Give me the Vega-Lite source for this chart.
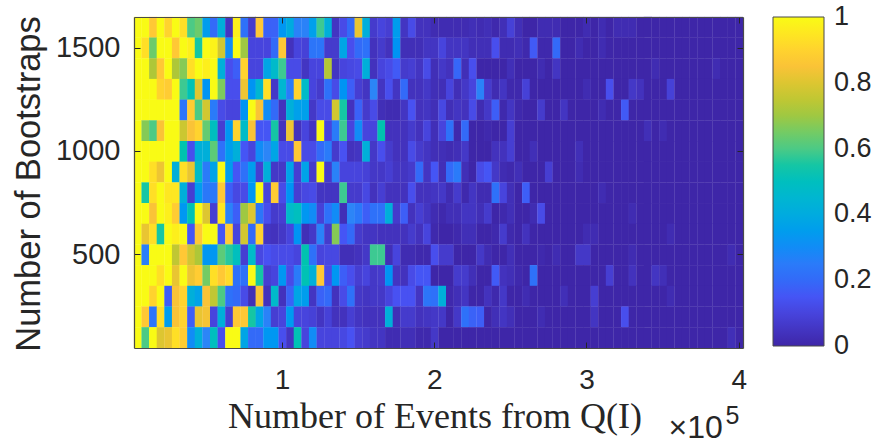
{"$schema":"https://vega.github.io/schema/vega-lite/v6.json","width":609,"height":331,"autosize":{"type":"none"},"padding":{"left":134,"top":17,"right":134,"bottom":93},"background":"white","config":{"view":{"stroke":null},"font":"Liberation Sans"},
"datasets":{"cells":[
{"y":1600,"x":0.05,"v":1},{"y":1600,"x":0.1,"v":1},{"y":1600,"x":0.15,"v":0.87},{"y":1600,"x":0.2,"v":1},{"y":1600,"x":0.25,"v":0.9},{"y":1600,"x":0.3,"v":1},{"y":1600,"x":0.35,"v":0.93},{"y":1600,"x":0.4,"v":0.6},{"y":1600,"x":0.45,"v":0.64},{"y":1600,"x":0.5,"v":0.35},{"y":1600,"x":0.55,"v":0.2},{"y":1600,"x":0.6,"v":0.42},{"y":1600,"x":0.65,"v":0.05},{"y":1600,"x":0.7,"v":0.97},{"y":1600,"x":0.75,"v":0.22},{"y":1600,"x":0.8,"v":0.07},{"y":1600,"x":0.85,"v":0.87},{"y":1600,"x":0.9,"v":0.18},{"y":1600,"x":0.95,"v":0.18},{"y":1600,"x":1,"v":0.33},{"y":1600,"x":1.05,"v":0.4},{"y":1600,"x":1.1,"v":0.27},{"y":1600,"x":1.15,"v":0.27},{"y":1600,"x":1.2,"v":0.36},{"y":1600,"x":1.25,"v":0.58},{"y":1600,"x":1.3,"v":0.42},{"y":1600,"x":1.35,"v":0.05},{"y":1600,"x":1.4,"v":0.12},{"y":1600,"x":1.45,"v":0.2},{"y":1600,"x":1.5,"v":0.82},{"y":1600,"x":1.55,"v":0.42},{"y":1600,"x":1.6,"v":0.07},{"y":1600,"x":1.65,"v":0.1},{"y":1600,"x":1.7,"v":0.08},{"y":1600,"x":1.75,"v":0.35},{"y":1600,"x":1.8,"v":0.05},{"y":1600,"x":1.85,"v":0.12},{"y":1600,"x":1.9,"v":0.04},{"y":1600,"x":1.95,"v":0.04},{"y":1600,"x":2,"v":0.02},{"y":1600,"x":2.05,"v":0.02},{"y":1600,"x":2.1,"v":0.02},{"y":1600,"x":2.15,"v":0.02},{"y":1600,"x":2.2,"v":0.02},{"y":1600,"x":2.25,"v":0.03},{"y":1600,"x":2.3,"v":0.02},{"y":1600,"x":2.35,"v":0.03},{"y":1600,"x":2.4,"v":0.01},{"y":1600,"x":2.45,"v":0.03},{"y":1600,"x":2.5,"v":0.09},{"y":1600,"x":2.55,"v":0.03},{"y":1600,"x":2.6,"v":0},{"y":1600,"x":2.65,"v":0},{"y":1600,"x":2.7,"v":0.02},{"y":1600,"x":2.75,"v":0.02},{"y":1600,"x":2.8,"v":0.02},{"y":1600,"x":2.85,"v":0},{"y":1600,"x":2.9,"v":0},{"y":1600,"x":2.95,"v":0},{"y":1600,"x":3,"v":0.02},{"y":1600,"x":3.05,"v":0},{"y":1600,"x":3.1,"v":0.02},{"y":1600,"x":3.15,"v":0},{"y":1600,"x":3.2,"v":0.02},{"y":1600,"x":3.25,"v":0.02},{"y":1600,"x":3.3,"v":0.02},{"y":1600,"x":3.35,"v":0},{"y":1600,"x":3.4,"v":0},{"y":1600,"x":3.45,"v":0},{"y":1600,"x":3.5,"v":0},{"y":1600,"x":3.55,"v":0},{"y":1600,"x":3.6,"v":0},{"y":1600,"x":3.65,"v":0},{"y":1600,"x":3.7,"v":0},{"y":1600,"x":3.75,"v":0},{"y":1600,"x":3.8,"v":0},{"y":1600,"x":3.85,"v":0},{"y":1600,"x":3.9,"v":0},{"y":1600,"x":3.95,"v":0},{"y":1600,"x":4,"v":0},
{"y":1500,"x":0.05,"v":1},{"y":1500,"x":0.1,"v":0.93},{"y":1500,"x":0.15,"v":0.64},{"y":1500,"x":0.2,"v":1},{"y":1500,"x":0.25,"v":1},{"y":1500,"x":0.3,"v":0.87},{"y":1500,"x":0.35,"v":1},{"y":1500,"x":0.4,"v":0.97},{"y":1500,"x":0.45,"v":0.55},{"y":1500,"x":0.5,"v":1},{"y":1500,"x":0.55,"v":0.98},{"y":1500,"x":0.6,"v":0.78},{"y":1500,"x":0.65,"v":0.3},{"y":1500,"x":0.7,"v":1},{"y":1500,"x":0.75,"v":0.7},{"y":1500,"x":0.8,"v":0.1},{"y":1500,"x":0.85,"v":0.1},{"y":1500,"x":0.9,"v":0.1},{"y":1500,"x":0.95,"v":0.2},{"y":1500,"x":1,"v":0.87},{"y":1500,"x":1.05,"v":0.04},{"y":1500,"x":1.1,"v":0.1},{"y":1500,"x":1.15,"v":0.09},{"y":1500,"x":1.2,"v":0.23},{"y":1500,"x":1.25,"v":0.23},{"y":1500,"x":1.3,"v":0.07},{"y":1500,"x":1.35,"v":0.07},{"y":1500,"x":1.4,"v":0.38},{"y":1500,"x":1.45,"v":0.13},{"y":1500,"x":1.5,"v":0.2},{"y":1500,"x":1.55,"v":0.22},{"y":1500,"x":1.6,"v":0.04},{"y":1500,"x":1.65,"v":0.07},{"y":1500,"x":1.7,"v":0.04},{"y":1500,"x":1.75,"v":0.32},{"y":1500,"x":1.8,"v":0.03},{"y":1500,"x":1.85,"v":0.03},{"y":1500,"x":1.9,"v":0.03},{"y":1500,"x":1.95,"v":0.05},{"y":1500,"x":2,"v":0.05},{"y":1500,"x":2.05,"v":0.1},{"y":1500,"x":2.1,"v":0.05},{"y":1500,"x":2.15,"v":0.05},{"y":1500,"x":2.2,"v":0.05},{"y":1500,"x":2.25,"v":0.03},{"y":1500,"x":2.3,"v":0.03},{"y":1500,"x":2.35,"v":0.03},{"y":1500,"x":2.4,"v":0.13},{"y":1500,"x":2.45,"v":0.02},{"y":1500,"x":2.5,"v":0.02},{"y":1500,"x":2.55,"v":0.03},{"y":1500,"x":2.6,"v":0.01},{"y":1500,"x":2.65,"v":0.16},{"y":1500,"x":2.7,"v":0.01},{"y":1500,"x":2.75,"v":0.01},{"y":1500,"x":2.8,"v":0.2},{"y":1500,"x":2.85,"v":0},{"y":1500,"x":2.9,"v":0},{"y":1500,"x":2.95,"v":0.02},{"y":1500,"x":3,"v":0},{"y":1500,"x":3.05,"v":0},{"y":1500,"x":3.1,"v":0.02},{"y":1500,"x":3.15,"v":0},{"y":1500,"x":3.2,"v":0},{"y":1500,"x":3.25,"v":0},{"y":1500,"x":3.3,"v":0},{"y":1500,"x":3.35,"v":0},{"y":1500,"x":3.4,"v":0},{"y":1500,"x":3.45,"v":0},{"y":1500,"x":3.5,"v":0},{"y":1500,"x":3.55,"v":0},{"y":1500,"x":3.6,"v":0},{"y":1500,"x":3.65,"v":0},{"y":1500,"x":3.7,"v":0},{"y":1500,"x":3.75,"v":0},{"y":1500,"x":3.8,"v":0},{"y":1500,"x":3.85,"v":0},{"y":1500,"x":3.9,"v":0},{"y":1500,"x":3.95,"v":0},{"y":1500,"x":4,"v":0},
{"y":1400,"x":0.05,"v":1},{"y":1400,"x":0.1,"v":1},{"y":1400,"x":0.15,"v":0.72},{"y":1400,"x":0.2,"v":0.87},{"y":1400,"x":0.25,"v":1},{"y":1400,"x":0.3,"v":0.72},{"y":1400,"x":0.35,"v":0.67},{"y":1400,"x":0.4,"v":0.93},{"y":1400,"x":0.45,"v":1},{"y":1400,"x":0.5,"v":0.97},{"y":1400,"x":0.55,"v":1},{"y":1400,"x":0.6,"v":0.42},{"y":1400,"x":0.65,"v":0.13},{"y":1400,"x":0.7,"v":0.17},{"y":1400,"x":0.75,"v":0.9},{"y":1400,"x":0.8,"v":0.1},{"y":1400,"x":0.85,"v":0.1},{"y":1400,"x":0.9,"v":0.38},{"y":1400,"x":0.95,"v":0.47},{"y":1400,"x":1,"v":0.58},{"y":1400,"x":1.05,"v":0.12},{"y":1400,"x":1.1,"v":0.12},{"y":1400,"x":1.15,"v":0.05},{"y":1400,"x":1.2,"v":0.1},{"y":1400,"x":1.25,"v":0.1},{"y":1400,"x":1.3,"v":0.73},{"y":1400,"x":1.35,"v":0.05},{"y":1400,"x":1.4,"v":0.1},{"y":1400,"x":1.45,"v":0.11},{"y":1400,"x":1.5,"v":0.12},{"y":1400,"x":1.55,"v":0.42},{"y":1400,"x":1.6,"v":0.04},{"y":1400,"x":1.65,"v":0.1},{"y":1400,"x":1.7,"v":0.12},{"y":1400,"x":1.75,"v":0.16},{"y":1400,"x":1.8,"v":0.07},{"y":1400,"x":1.85,"v":0.08},{"y":1400,"x":1.9,"v":0.05},{"y":1400,"x":1.95,"v":0.12},{"y":1400,"x":2,"v":0.03},{"y":1400,"x":2.05,"v":0.06},{"y":1400,"x":2.1,"v":0.04},{"y":1400,"x":2.15,"v":0.19},{"y":1400,"x":2.2,"v":0.03},{"y":1400,"x":2.25,"v":0.13},{"y":1400,"x":2.3,"v":0},{"y":1400,"x":2.35,"v":0},{"y":1400,"x":2.4,"v":0},{"y":1400,"x":2.45,"v":0},{"y":1400,"x":2.5,"v":0.03},{"y":1400,"x":2.55,"v":0},{"y":1400,"x":2.6,"v":0},{"y":1400,"x":2.65,"v":0},{"y":1400,"x":2.7,"v":0.02},{"y":1400,"x":2.75,"v":0},{"y":1400,"x":2.8,"v":0.05},{"y":1400,"x":2.85,"v":0},{"y":1400,"x":2.9,"v":0},{"y":1400,"x":2.95,"v":0},{"y":1400,"x":3,"v":0},{"y":1400,"x":3.05,"v":0},{"y":1400,"x":3.1,"v":0},{"y":1400,"x":3.15,"v":0},{"y":1400,"x":3.2,"v":0},{"y":1400,"x":3.25,"v":0},{"y":1400,"x":3.3,"v":0},{"y":1400,"x":3.35,"v":0},{"y":1400,"x":3.4,"v":0},{"y":1400,"x":3.45,"v":0.02},{"y":1400,"x":3.5,"v":0},{"y":1400,"x":3.55,"v":0},{"y":1400,"x":3.6,"v":0},{"y":1400,"x":3.65,"v":0},{"y":1400,"x":3.7,"v":0},{"y":1400,"x":3.75,"v":0},{"y":1400,"x":3.8,"v":0},{"y":1400,"x":3.85,"v":0.02},{"y":1400,"x":3.9,"v":0},{"y":1400,"x":3.95,"v":0},{"y":1400,"x":4,"v":0},
{"y":1300,"x":0.05,"v":1},{"y":1300,"x":0.1,"v":1},{"y":1300,"x":0.15,"v":1},{"y":1300,"x":0.2,"v":0.9},{"y":1300,"x":0.25,"v":0.88},{"y":1300,"x":0.3,"v":1},{"y":1300,"x":0.35,"v":0.58},{"y":1300,"x":0.4,"v":0.52},{"y":1300,"x":0.45,"v":0.8},{"y":1300,"x":0.5,"v":0.32},{"y":1300,"x":0.55,"v":1},{"y":1300,"x":0.6,"v":0.66},{"y":1300,"x":0.65,"v":0.13},{"y":1300,"x":0.7,"v":0.13},{"y":1300,"x":0.75,"v":0.83},{"y":1300,"x":0.8,"v":0.32},{"y":1300,"x":0.85,"v":0.45},{"y":1300,"x":0.9,"v":0.93},{"y":1300,"x":0.95,"v":0.06},{"y":1300,"x":1,"v":0.45},{"y":1300,"x":1.05,"v":0.25},{"y":1300,"x":1.1,"v":0.9},{"y":1300,"x":1.15,"v":0.48},{"y":1300,"x":1.2,"v":0.1},{"y":1300,"x":1.25,"v":0.07},{"y":1300,"x":1.3,"v":0.22},{"y":1300,"x":1.35,"v":0.12},{"y":1300,"x":1.4,"v":0.32},{"y":1300,"x":1.45,"v":0.17},{"y":1300,"x":1.5,"v":0.08},{"y":1300,"x":1.55,"v":0.05},{"y":1300,"x":1.6,"v":0.28},{"y":1300,"x":1.65,"v":0.05},{"y":1300,"x":1.7,"v":0.13},{"y":1300,"x":1.75,"v":0.05},{"y":1300,"x":1.8,"v":0.2},{"y":1300,"x":1.85,"v":0.04},{"y":1300,"x":1.9,"v":0.04},{"y":1300,"x":1.95,"v":0.06},{"y":1300,"x":2,"v":0.03},{"y":1300,"x":2.05,"v":0.03},{"y":1300,"x":2.1,"v":0.1},{"y":1300,"x":2.15,"v":0.03},{"y":1300,"x":2.2,"v":0.06},{"y":1300,"x":2.25,"v":0.1},{"y":1300,"x":2.3,"v":0.27},{"y":1300,"x":2.35,"v":0.07},{"y":1300,"x":2.4,"v":0.02},{"y":1300,"x":2.45,"v":0.05},{"y":1300,"x":2.5,"v":0.01},{"y":1300,"x":2.55,"v":0.01},{"y":1300,"x":2.6,"v":0.09},{"y":1300,"x":2.65,"v":0},{"y":1300,"x":2.7,"v":0},{"y":1300,"x":2.75,"v":0},{"y":1300,"x":2.8,"v":0},{"y":1300,"x":2.85,"v":0},{"y":1300,"x":2.9,"v":0},{"y":1300,"x":2.95,"v":0},{"y":1300,"x":3,"v":0.02},{"y":1300,"x":3.05,"v":0},{"y":1300,"x":3.1,"v":0},{"y":1300,"x":3.15,"v":0.13},{"y":1300,"x":3.2,"v":0},{"y":1300,"x":3.25,"v":0},{"y":1300,"x":3.3,"v":0.06},{"y":1300,"x":3.35,"v":0.04},{"y":1300,"x":3.4,"v":0},{"y":1300,"x":3.45,"v":0},{"y":1300,"x":3.5,"v":0},{"y":1300,"x":3.55,"v":0.09},{"y":1300,"x":3.6,"v":0},{"y":1300,"x":3.65,"v":0},{"y":1300,"x":3.7,"v":0},{"y":1300,"x":3.75,"v":0},{"y":1300,"x":3.8,"v":0},{"y":1300,"x":3.85,"v":0},{"y":1300,"x":3.9,"v":0},{"y":1300,"x":3.95,"v":0},{"y":1300,"x":4,"v":0},
{"y":1200,"x":0.05,"v":1},{"y":1200,"x":0.1,"v":1},{"y":1200,"x":0.15,"v":1},{"y":1200,"x":0.2,"v":1},{"y":1200,"x":0.25,"v":1},{"y":1200,"x":0.3,"v":1},{"y":1200,"x":0.35,"v":0.23},{"y":1200,"x":0.4,"v":0.88},{"y":1200,"x":0.45,"v":0.6},{"y":1200,"x":0.5,"v":0.78},{"y":1200,"x":0.55,"v":0.25},{"y":1200,"x":0.6,"v":0.12},{"y":1200,"x":0.65,"v":0.1},{"y":1200,"x":0.7,"v":0.1},{"y":1200,"x":0.75,"v":0.32},{"y":1200,"x":0.8,"v":1},{"y":1200,"x":0.85,"v":0.85},{"y":1200,"x":0.9,"v":0.3},{"y":1200,"x":0.95,"v":0.2},{"y":1200,"x":1,"v":0.04},{"y":1200,"x":1.05,"v":0.42},{"y":1200,"x":1.1,"v":0.36},{"y":1200,"x":1.15,"v":0.36},{"y":1200,"x":1.2,"v":0.06},{"y":1200,"x":1.25,"v":0.12},{"y":1200,"x":1.3,"v":0.12},{"y":1200,"x":1.35,"v":0.78},{"y":1200,"x":1.4,"v":0.55},{"y":1200,"x":1.45,"v":0.04},{"y":1200,"x":1.5,"v":0.18},{"y":1200,"x":1.55,"v":0.07},{"y":1200,"x":1.6,"v":0.12},{"y":1200,"x":1.65,"v":0.03},{"y":1200,"x":1.7,"v":0.02},{"y":1200,"x":1.75,"v":0.02},{"y":1200,"x":1.8,"v":0.05},{"y":1200,"x":1.85,"v":0.14},{"y":1200,"x":1.9,"v":0.04},{"y":1200,"x":1.95,"v":0.05},{"y":1200,"x":2,"v":0.03},{"y":1200,"x":2.05,"v":0.11},{"y":1200,"x":2.1,"v":0.03},{"y":1200,"x":2.15,"v":0.05},{"y":1200,"x":2.2,"v":0.04},{"y":1200,"x":2.25,"v":0.12},{"y":1200,"x":2.3,"v":0.02},{"y":1200,"x":2.35,"v":0.06},{"y":1200,"x":2.4,"v":0.17},{"y":1200,"x":2.45,"v":0.01},{"y":1200,"x":2.5,"v":0.05},{"y":1200,"x":2.55,"v":0.01},{"y":1200,"x":2.6,"v":0},{"y":1200,"x":2.65,"v":0},{"y":1200,"x":2.7,"v":0.07},{"y":1200,"x":2.75,"v":0},{"y":1200,"x":2.8,"v":0},{"y":1200,"x":2.85,"v":0.05},{"y":1200,"x":2.9,"v":0},{"y":1200,"x":2.95,"v":0},{"y":1200,"x":3,"v":0},{"y":1200,"x":3.05,"v":0},{"y":1200,"x":3.1,"v":0.02},{"y":1200,"x":3.15,"v":0},{"y":1200,"x":3.2,"v":0},{"y":1200,"x":3.25,"v":0.16},{"y":1200,"x":3.3,"v":0},{"y":1200,"x":3.35,"v":0},{"y":1200,"x":3.4,"v":0},{"y":1200,"x":3.45,"v":0},{"y":1200,"x":3.5,"v":0},{"y":1200,"x":3.55,"v":0},{"y":1200,"x":3.6,"v":0},{"y":1200,"x":3.65,"v":0},{"y":1200,"x":3.7,"v":0},{"y":1200,"x":3.75,"v":0},{"y":1200,"x":3.8,"v":0},{"y":1200,"x":3.85,"v":0},{"y":1200,"x":3.9,"v":0},{"y":1200,"x":3.95,"v":0},{"y":1200,"x":4,"v":0},
{"y":1100,"x":0.05,"v":1},{"y":1100,"x":0.1,"v":0.67},{"y":1100,"x":0.15,"v":0.6},{"y":1100,"x":0.2,"v":0.85},{"y":1100,"x":0.25,"v":1},{"y":1100,"x":0.3,"v":1},{"y":1100,"x":0.35,"v":0.77},{"y":1100,"x":0.4,"v":0.85},{"y":1100,"x":0.45,"v":0.9},{"y":1100,"x":0.5,"v":0.63},{"y":1100,"x":0.55,"v":0.5},{"y":1100,"x":0.6,"v":0.08},{"y":1100,"x":0.65,"v":0.33},{"y":1100,"x":0.7,"v":0.9},{"y":1100,"x":0.75,"v":0.48},{"y":1100,"x":0.8,"v":0.85},{"y":1100,"x":0.85,"v":0.15},{"y":1100,"x":0.9,"v":0.15},{"y":1100,"x":0.95,"v":0.55},{"y":1100,"x":1,"v":0.04},{"y":1100,"x":1.05,"v":0.83},{"y":1100,"x":1.1,"v":0.04},{"y":1100,"x":1.15,"v":0.1},{"y":1100,"x":1.2,"v":0.05},{"y":1100,"x":1.25,"v":1},{"y":1100,"x":1.3,"v":0.1},{"y":1100,"x":1.35,"v":0.25},{"y":1100,"x":1.4,"v":0.58},{"y":1100,"x":1.45,"v":0.1},{"y":1100,"x":1.5,"v":0.3},{"y":1100,"x":1.55,"v":0.1},{"y":1100,"x":1.6,"v":0.1},{"y":1100,"x":1.65,"v":0.53},{"y":1100,"x":1.7,"v":0.04},{"y":1100,"x":1.75,"v":0.04},{"y":1100,"x":1.8,"v":0.04},{"y":1100,"x":1.85,"v":0.07},{"y":1100,"x":1.9,"v":0.04},{"y":1100,"x":1.95,"v":0.1},{"y":1100,"x":2,"v":0.03},{"y":1100,"x":2.05,"v":0.1},{"y":1100,"x":2.1,"v":0.22},{"y":1100,"x":2.15,"v":0.01},{"y":1100,"x":2.2,"v":0.2},{"y":1100,"x":2.25,"v":0},{"y":1100,"x":2.3,"v":0},{"y":1100,"x":2.35,"v":0.01},{"y":1100,"x":2.4,"v":0},{"y":1100,"x":2.45,"v":0},{"y":1100,"x":2.5,"v":0.08},{"y":1100,"x":2.55,"v":0},{"y":1100,"x":2.6,"v":0},{"y":1100,"x":2.65,"v":0},{"y":1100,"x":2.7,"v":0},{"y":1100,"x":2.75,"v":0},{"y":1100,"x":2.8,"v":0},{"y":1100,"x":2.85,"v":0},{"y":1100,"x":2.9,"v":0},{"y":1100,"x":2.95,"v":0},{"y":1100,"x":3,"v":0},{"y":1100,"x":3.05,"v":0},{"y":1100,"x":3.1,"v":0},{"y":1100,"x":3.15,"v":0},{"y":1100,"x":3.2,"v":0},{"y":1100,"x":3.25,"v":0},{"y":1100,"x":3.3,"v":0},{"y":1100,"x":3.35,"v":0},{"y":1100,"x":3.4,"v":0.03},{"y":1100,"x":3.45,"v":0},{"y":1100,"x":3.5,"v":0.02},{"y":1100,"x":3.55,"v":0},{"y":1100,"x":3.6,"v":0},{"y":1100,"x":3.65,"v":0},{"y":1100,"x":3.7,"v":0},{"y":1100,"x":3.75,"v":0},{"y":1100,"x":3.8,"v":0},{"y":1100,"x":3.85,"v":0},{"y":1100,"x":3.9,"v":0},{"y":1100,"x":3.95,"v":0},{"y":1100,"x":4,"v":0},
{"y":1000,"x":0.05,"v":1},{"y":1000,"x":0.1,"v":1},{"y":1000,"x":0.15,"v":1},{"y":1000,"x":0.2,"v":1},{"y":1000,"x":0.25,"v":1},{"y":1000,"x":0.3,"v":1},{"y":1000,"x":0.35,"v":0.53},{"y":1000,"x":0.4,"v":0.13},{"y":1000,"x":0.45,"v":0.42},{"y":1000,"x":0.5,"v":0.42},{"y":1000,"x":0.55,"v":0.62},{"y":1000,"x":0.6,"v":0.22},{"y":1000,"x":0.65,"v":0.35},{"y":1000,"x":0.7,"v":0.42},{"y":1000,"x":0.75,"v":0.15},{"y":1000,"x":0.8,"v":0.1},{"y":1000,"x":0.85,"v":0.3},{"y":1000,"x":0.9,"v":0.28},{"y":1000,"x":0.95,"v":0.38},{"y":1000,"x":1,"v":0.12},{"y":1000,"x":1.05,"v":0.12},{"y":1000,"x":1.1,"v":0.87},{"y":1000,"x":1.15,"v":0.12},{"y":1000,"x":1.2,"v":0.12},{"y":1000,"x":1.25,"v":0.2},{"y":1000,"x":1.3,"v":0.25},{"y":1000,"x":1.35,"v":0.07},{"y":1000,"x":1.4,"v":0.14},{"y":1000,"x":1.45,"v":0.04},{"y":1000,"x":1.5,"v":0.05},{"y":1000,"x":1.55,"v":0.42},{"y":1000,"x":1.6,"v":0.06},{"y":1000,"x":1.65,"v":0.13},{"y":1000,"x":1.7,"v":0.07},{"y":1000,"x":1.75,"v":0.04},{"y":1000,"x":1.8,"v":0.04},{"y":1000,"x":1.85,"v":0.12},{"y":1000,"x":1.9,"v":0.07},{"y":1000,"x":1.95,"v":0.05},{"y":1000,"x":2,"v":0.03},{"y":1000,"x":2.05,"v":0.03},{"y":1000,"x":2.1,"v":0.02},{"y":1000,"x":2.15,"v":0.03},{"y":1000,"x":2.2,"v":0.06},{"y":1000,"x":2.25,"v":0},{"y":1000,"x":2.3,"v":0},{"y":1000,"x":2.35,"v":0},{"y":1000,"x":2.4,"v":0.04},{"y":1000,"x":2.45,"v":0.04},{"y":1000,"x":2.5,"v":0.08},{"y":1000,"x":2.55,"v":0},{"y":1000,"x":2.6,"v":0},{"y":1000,"x":2.65,"v":0.03},{"y":1000,"x":2.7,"v":0},{"y":1000,"x":2.75,"v":0},{"y":1000,"x":2.8,"v":0},{"y":1000,"x":2.85,"v":0},{"y":1000,"x":2.9,"v":0},{"y":1000,"x":2.95,"v":0.03},{"y":1000,"x":3,"v":0},{"y":1000,"x":3.05,"v":0},{"y":1000,"x":3.1,"v":0},{"y":1000,"x":3.15,"v":0},{"y":1000,"x":3.2,"v":0},{"y":1000,"x":3.25,"v":0},{"y":1000,"x":3.3,"v":0},{"y":1000,"x":3.35,"v":0},{"y":1000,"x":3.4,"v":0},{"y":1000,"x":3.45,"v":0},{"y":1000,"x":3.5,"v":0},{"y":1000,"x":3.55,"v":0},{"y":1000,"x":3.6,"v":0},{"y":1000,"x":3.65,"v":0},{"y":1000,"x":3.7,"v":0},{"y":1000,"x":3.75,"v":0},{"y":1000,"x":3.8,"v":0},{"y":1000,"x":3.85,"v":0},{"y":1000,"x":3.9,"v":0},{"y":1000,"x":3.95,"v":0},{"y":1000,"x":4,"v":0},
{"y":900,"x":0.05,"v":1},{"y":900,"x":0.1,"v":1},{"y":900,"x":0.15,"v":0.93},{"y":900,"x":0.2,"v":0.83},{"y":900,"x":0.25,"v":1},{"y":900,"x":0.3,"v":0.42},{"y":900,"x":0.35,"v":0.93},{"y":900,"x":0.4,"v":0.82},{"y":900,"x":0.45,"v":0.48},{"y":900,"x":0.5,"v":0.25},{"y":900,"x":0.55,"v":0.37},{"y":900,"x":0.6,"v":1},{"y":900,"x":0.65,"v":0.35},{"y":900,"x":0.7,"v":0.15},{"y":900,"x":0.75,"v":0.22},{"y":900,"x":0.8,"v":0.35},{"y":900,"x":0.85,"v":0.08},{"y":900,"x":0.9,"v":0.42},{"y":900,"x":0.95,"v":0.06},{"y":900,"x":1,"v":0.06},{"y":900,"x":1.05,"v":0.37},{"y":900,"x":1.1,"v":0.08},{"y":900,"x":1.15,"v":0.37},{"y":900,"x":1.2,"v":0.07},{"y":900,"x":1.25,"v":1},{"y":900,"x":1.3,"v":0.07},{"y":900,"x":1.35,"v":0.27},{"y":900,"x":1.4,"v":0.1},{"y":900,"x":1.45,"v":0.1},{"y":900,"x":1.5,"v":0.1},{"y":900,"x":1.55,"v":0.09},{"y":900,"x":1.6,"v":0.06},{"y":900,"x":1.65,"v":0.06},{"y":900,"x":1.7,"v":0.08},{"y":900,"x":1.75,"v":0.05},{"y":900,"x":1.8,"v":0.05},{"y":900,"x":1.85,"v":0.07},{"y":900,"x":1.9,"v":0.2},{"y":900,"x":1.95,"v":0.05},{"y":900,"x":2,"v":0.15},{"y":900,"x":2.05,"v":0.03},{"y":900,"x":2.1,"v":0.2},{"y":900,"x":2.15,"v":0.25},{"y":900,"x":2.2,"v":0.03},{"y":900,"x":2.25,"v":0},{"y":900,"x":2.3,"v":0.12},{"y":900,"x":2.35,"v":0.15},{"y":900,"x":2.4,"v":0.06},{"y":900,"x":2.45,"v":0.02},{"y":900,"x":2.5,"v":0.01},{"y":900,"x":2.55,"v":0.03},{"y":900,"x":2.6,"v":0},{"y":900,"x":2.65,"v":0},{"y":900,"x":2.7,"v":0},{"y":900,"x":2.75,"v":0.08},{"y":900,"x":2.8,"v":0},{"y":900,"x":2.85,"v":0},{"y":900,"x":2.9,"v":0},{"y":900,"x":2.95,"v":0.02},{"y":900,"x":3,"v":0},{"y":900,"x":3.05,"v":0},{"y":900,"x":3.1,"v":0},{"y":900,"x":3.15,"v":0},{"y":900,"x":3.2,"v":0},{"y":900,"x":3.25,"v":0},{"y":900,"x":3.3,"v":0},{"y":900,"x":3.35,"v":0},{"y":900,"x":3.4,"v":0},{"y":900,"x":3.45,"v":0},{"y":900,"x":3.5,"v":0},{"y":900,"x":3.55,"v":0},{"y":900,"x":3.6,"v":0},{"y":900,"x":3.65,"v":0},{"y":900,"x":3.7,"v":0},{"y":900,"x":3.75,"v":0},{"y":900,"x":3.8,"v":0},{"y":900,"x":3.85,"v":0},{"y":900,"x":3.9,"v":0},{"y":900,"x":3.95,"v":0},{"y":900,"x":4,"v":0},
{"y":800,"x":0.05,"v":1},{"y":800,"x":0.1,"v":0.55},{"y":800,"x":0.15,"v":0.93},{"y":800,"x":0.2,"v":1},{"y":800,"x":0.25,"v":0.95},{"y":800,"x":0.3,"v":0.95},{"y":800,"x":0.35,"v":0.42},{"y":800,"x":0.4,"v":0.08},{"y":800,"x":0.45,"v":0.35},{"y":800,"x":0.5,"v":0.24},{"y":800,"x":0.55,"v":0.24},{"y":800,"x":0.6,"v":0.87},{"y":800,"x":0.65,"v":0.17},{"y":800,"x":0.7,"v":0.11},{"y":800,"x":0.75,"v":0.12},{"y":800,"x":0.8,"v":0.33},{"y":800,"x":0.85,"v":1},{"y":800,"x":0.9,"v":0.1},{"y":800,"x":0.95,"v":0.88},{"y":800,"x":1,"v":0.12},{"y":800,"x":1.05,"v":0.32},{"y":800,"x":1.1,"v":0.08},{"y":800,"x":1.15,"v":0.11},{"y":800,"x":1.2,"v":0.12},{"y":800,"x":1.25,"v":0.05},{"y":800,"x":1.3,"v":0.05},{"y":800,"x":1.35,"v":0.05},{"y":800,"x":1.4,"v":0.58},{"y":800,"x":1.45,"v":0.07},{"y":800,"x":1.5,"v":0.07},{"y":800,"x":1.55,"v":0.11},{"y":800,"x":1.6,"v":0.04},{"y":800,"x":1.65,"v":0.08},{"y":800,"x":1.7,"v":0.04},{"y":800,"x":1.75,"v":0.04},{"y":800,"x":1.8,"v":0.04},{"y":800,"x":1.85,"v":0.13},{"y":800,"x":1.9,"v":0.04},{"y":800,"x":1.95,"v":0.04},{"y":800,"x":2,"v":0.05},{"y":800,"x":2.05,"v":0.06},{"y":800,"x":2.1,"v":0.02},{"y":800,"x":2.15,"v":0.07},{"y":800,"x":2.2,"v":0.01},{"y":800,"x":2.25,"v":0.05},{"y":800,"x":2.3,"v":0.02},{"y":800,"x":2.35,"v":0.02},{"y":800,"x":2.4,"v":0.22},{"y":800,"x":2.45,"v":0.1},{"y":800,"x":2.5,"v":0.03},{"y":800,"x":2.55,"v":0},{"y":800,"x":2.6,"v":0.17},{"y":800,"x":2.65,"v":0},{"y":800,"x":2.7,"v":0},{"y":800,"x":2.75,"v":0},{"y":800,"x":2.8,"v":0},{"y":800,"x":2.85,"v":0},{"y":800,"x":2.9,"v":0},{"y":800,"x":2.95,"v":0},{"y":800,"x":3,"v":0},{"y":800,"x":3.05,"v":0},{"y":800,"x":3.1,"v":0.02},{"y":800,"x":3.15,"v":0},{"y":800,"x":3.2,"v":0},{"y":800,"x":3.25,"v":0},{"y":800,"x":3.3,"v":0},{"y":800,"x":3.35,"v":0},{"y":800,"x":3.4,"v":0},{"y":800,"x":3.45,"v":0},{"y":800,"x":3.5,"v":0},{"y":800,"x":3.55,"v":0},{"y":800,"x":3.6,"v":0},{"y":800,"x":3.65,"v":0},{"y":800,"x":3.7,"v":0},{"y":800,"x":3.75,"v":0},{"y":800,"x":3.8,"v":0},{"y":800,"x":3.85,"v":0},{"y":800,"x":3.9,"v":0},{"y":800,"x":3.95,"v":0},{"y":800,"x":4,"v":0},
{"y":700,"x":0.05,"v":1},{"y":700,"x":0.1,"v":1},{"y":700,"x":0.15,"v":0.85},{"y":700,"x":0.2,"v":1},{"y":700,"x":0.25,"v":0.97},{"y":700,"x":0.3,"v":0.88},{"y":700,"x":0.35,"v":0.33},{"y":700,"x":0.4,"v":0.52},{"y":700,"x":0.45,"v":1},{"y":700,"x":0.5,"v":0.8},{"y":700,"x":0.55,"v":0.08},{"y":700,"x":0.6,"v":0.95},{"y":700,"x":0.65,"v":0.27},{"y":700,"x":0.7,"v":0.17},{"y":700,"x":0.75,"v":0.7},{"y":700,"x":0.8,"v":0.8},{"y":700,"x":0.85,"v":0.23},{"y":700,"x":0.9,"v":0.13},{"y":700,"x":0.95,"v":0.07},{"y":700,"x":1,"v":0.08},{"y":700,"x":1.05,"v":0.47},{"y":700,"x":1.1,"v":0.5},{"y":700,"x":1.15,"v":0.33},{"y":700,"x":1.2,"v":0.3},{"y":700,"x":1.25,"v":0.09},{"y":700,"x":1.3,"v":0.22},{"y":700,"x":1.35,"v":0.3},{"y":700,"x":1.4,"v":0.03},{"y":700,"x":1.45,"v":0.28},{"y":700,"x":1.5,"v":0.24},{"y":700,"x":1.55,"v":0.17},{"y":700,"x":1.6,"v":0.22},{"y":700,"x":1.65,"v":0.22},{"y":700,"x":1.7,"v":0.42},{"y":700,"x":1.75,"v":0.07},{"y":700,"x":1.8,"v":0.17},{"y":700,"x":1.85,"v":0.04},{"y":700,"x":1.9,"v":0.08},{"y":700,"x":1.95,"v":0.05},{"y":700,"x":2,"v":0.02},{"y":700,"x":2.05,"v":0.01},{"y":700,"x":2.1,"v":0.03},{"y":700,"x":2.15,"v":0.03},{"y":700,"x":2.2,"v":0.05},{"y":700,"x":2.25,"v":0.05},{"y":700,"x":2.3,"v":0.03},{"y":700,"x":2.35,"v":0.07},{"y":700,"x":2.4,"v":0},{"y":700,"x":2.45,"v":0.01},{"y":700,"x":2.5,"v":0.03},{"y":700,"x":2.55,"v":0},{"y":700,"x":2.6,"v":0},{"y":700,"x":2.65,"v":0.02},{"y":700,"x":2.7,"v":0.12},{"y":700,"x":2.75,"v":0},{"y":700,"x":2.8,"v":0},{"y":700,"x":2.85,"v":0},{"y":700,"x":2.9,"v":0},{"y":700,"x":2.95,"v":0},{"y":700,"x":3,"v":0},{"y":700,"x":3.05,"v":0},{"y":700,"x":3.1,"v":0},{"y":700,"x":3.15,"v":0},{"y":700,"x":3.2,"v":0},{"y":700,"x":3.25,"v":0},{"y":700,"x":3.3,"v":0.02},{"y":700,"x":3.35,"v":0},{"y":700,"x":3.4,"v":0},{"y":700,"x":3.45,"v":0},{"y":700,"x":3.5,"v":0},{"y":700,"x":3.55,"v":0},{"y":700,"x":3.6,"v":0},{"y":700,"x":3.65,"v":0},{"y":700,"x":3.7,"v":0},{"y":700,"x":3.75,"v":0},{"y":700,"x":3.8,"v":0},{"y":700,"x":3.85,"v":0},{"y":700,"x":3.9,"v":0},{"y":700,"x":3.95,"v":0},{"y":700,"x":4,"v":0},
{"y":600,"x":0.05,"v":1},{"y":600,"x":0.1,"v":0.82},{"y":600,"x":0.15,"v":0.93},{"y":600,"x":0.2,"v":0.55},{"y":600,"x":0.25,"v":1},{"y":600,"x":0.3,"v":0.97},{"y":600,"x":0.35,"v":1},{"y":600,"x":0.4,"v":0.15},{"y":600,"x":0.45,"v":0.87},{"y":600,"x":0.5,"v":1},{"y":600,"x":0.55,"v":1},{"y":600,"x":0.6,"v":0.15},{"y":600,"x":0.65,"v":0.88},{"y":600,"x":0.7,"v":0.1},{"y":600,"x":0.75,"v":0.78},{"y":600,"x":0.8,"v":0.2},{"y":600,"x":0.85,"v":0.9},{"y":600,"x":0.9,"v":0.05},{"y":600,"x":0.95,"v":0.04},{"y":600,"x":1,"v":0.06},{"y":600,"x":1.05,"v":0.1},{"y":600,"x":1.1,"v":0.32},{"y":600,"x":1.15,"v":0.03},{"y":600,"x":1.2,"v":0.06},{"y":600,"x":1.25,"v":0.27},{"y":600,"x":1.3,"v":0.07},{"y":600,"x":1.35,"v":0.67},{"y":600,"x":1.4,"v":0.15},{"y":600,"x":1.45,"v":0.2},{"y":600,"x":1.5,"v":0.07},{"y":600,"x":1.55,"v":0.05},{"y":600,"x":1.6,"v":0.05},{"y":600,"x":1.65,"v":0.04},{"y":600,"x":1.7,"v":0.04},{"y":600,"x":1.75,"v":0.04},{"y":600,"x":1.8,"v":0.04},{"y":600,"x":1.85,"v":0.07},{"y":600,"x":1.9,"v":0.04},{"y":600,"x":1.95,"v":0.1},{"y":600,"x":2,"v":0.01},{"y":600,"x":2.05,"v":0},{"y":600,"x":2.1,"v":0},{"y":600,"x":2.15,"v":0.01},{"y":600,"x":2.2,"v":0.03},{"y":600,"x":2.25,"v":0.03},{"y":600,"x":2.3,"v":0},{"y":600,"x":2.35,"v":0},{"y":600,"x":2.4,"v":0.01},{"y":600,"x":2.45,"v":0.07},{"y":600,"x":2.5,"v":0.01},{"y":600,"x":2.55,"v":0},{"y":600,"x":2.6,"v":0.04},{"y":600,"x":2.65,"v":0},{"y":600,"x":2.7,"v":0},{"y":600,"x":2.75,"v":0},{"y":600,"x":2.8,"v":0},{"y":600,"x":2.85,"v":0},{"y":600,"x":2.9,"v":0},{"y":600,"x":2.95,"v":0},{"y":600,"x":3,"v":0.02},{"y":600,"x":3.05,"v":0.02},{"y":600,"x":3.1,"v":0},{"y":600,"x":3.15,"v":0},{"y":600,"x":3.2,"v":0},{"y":600,"x":3.25,"v":0},{"y":600,"x":3.3,"v":0},{"y":600,"x":3.35,"v":0},{"y":600,"x":3.4,"v":0},{"y":600,"x":3.45,"v":0},{"y":600,"x":3.5,"v":0},{"y":600,"x":3.55,"v":0.02},{"y":600,"x":3.6,"v":0},{"y":600,"x":3.65,"v":0},{"y":600,"x":3.7,"v":0},{"y":600,"x":3.75,"v":0},{"y":600,"x":3.8,"v":0},{"y":600,"x":3.85,"v":0},{"y":600,"x":3.9,"v":0},{"y":600,"x":3.95,"v":0},{"y":600,"x":4,"v":0},
{"y":500,"x":0.05,"v":1},{"y":500,"x":0.1,"v":0.26},{"y":500,"x":0.15,"v":1},{"y":500,"x":0.2,"v":1},{"y":500,"x":0.25,"v":1},{"y":500,"x":0.3,"v":0.75},{"y":500,"x":0.35,"v":0.87},{"y":500,"x":0.4,"v":0.78},{"y":500,"x":0.45,"v":0.72},{"y":500,"x":0.5,"v":0.33},{"y":500,"x":0.55,"v":0.33},{"y":500,"x":0.6,"v":0.62},{"y":500,"x":0.65,"v":0.56},{"y":500,"x":0.7,"v":0.5},{"y":500,"x":0.75,"v":0.08},{"y":500,"x":0.8,"v":0.47},{"y":500,"x":0.85,"v":0.11},{"y":500,"x":0.9,"v":0.14},{"y":500,"x":0.95,"v":0.12},{"y":500,"x":1,"v":0.12},{"y":500,"x":1.05,"v":0.12},{"y":500,"x":1.1,"v":0.1},{"y":500,"x":1.15,"v":0.53},{"y":500,"x":1.2,"v":0.22},{"y":500,"x":1.25,"v":0.1},{"y":500,"x":1.3,"v":0.11},{"y":500,"x":1.35,"v":0.11},{"y":500,"x":1.4,"v":0.03},{"y":500,"x":1.45,"v":0.03},{"y":500,"x":1.5,"v":0.04},{"y":500,"x":1.55,"v":0.06},{"y":500,"x":1.6,"v":0.58},{"y":500,"x":1.65,"v":0.58},{"y":500,"x":1.7,"v":0.03},{"y":500,"x":1.75,"v":0.1},{"y":500,"x":1.8,"v":0.02},{"y":500,"x":1.85,"v":0.02},{"y":500,"x":1.9,"v":0.01},{"y":500,"x":1.95,"v":0.01},{"y":500,"x":2,"v":0.13},{"y":500,"x":2.05,"v":0.07},{"y":500,"x":2.1,"v":0.07},{"y":500,"x":2.15,"v":0},{"y":500,"x":2.2,"v":0},{"y":500,"x":2.25,"v":0},{"y":500,"x":2.3,"v":0.06},{"y":500,"x":2.35,"v":0.02},{"y":500,"x":2.4,"v":0},{"y":500,"x":2.45,"v":0},{"y":500,"x":2.5,"v":0.03},{"y":500,"x":2.55,"v":0},{"y":500,"x":2.6,"v":0},{"y":500,"x":2.65,"v":0},{"y":500,"x":2.7,"v":0.01},{"y":500,"x":2.75,"v":0},{"y":500,"x":2.8,"v":0.02},{"y":500,"x":2.85,"v":0},{"y":500,"x":2.9,"v":0},{"y":500,"x":2.95,"v":0.06},{"y":500,"x":3,"v":0.06},{"y":500,"x":3.05,"v":0},{"y":500,"x":3.1,"v":0},{"y":500,"x":3.15,"v":0},{"y":500,"x":3.2,"v":0},{"y":500,"x":3.25,"v":0},{"y":500,"x":3.3,"v":0.02},{"y":500,"x":3.35,"v":0},{"y":500,"x":3.4,"v":0},{"y":500,"x":3.45,"v":0},{"y":500,"x":3.5,"v":0},{"y":500,"x":3.55,"v":0},{"y":500,"x":3.6,"v":0},{"y":500,"x":3.65,"v":0},{"y":500,"x":3.7,"v":0},{"y":500,"x":3.75,"v":0},{"y":500,"x":3.8,"v":0},{"y":500,"x":3.85,"v":0},{"y":500,"x":3.9,"v":0},{"y":500,"x":3.95,"v":0.02},{"y":500,"x":4,"v":0},
{"y":400,"x":0.05,"v":1},{"y":400,"x":0.1,"v":1},{"y":400,"x":0.15,"v":1},{"y":400,"x":0.2,"v":0.93},{"y":400,"x":0.25,"v":1},{"y":400,"x":0.3,"v":0.82},{"y":400,"x":0.35,"v":1},{"y":400,"x":0.4,"v":0.83},{"y":400,"x":0.45,"v":0.88},{"y":400,"x":0.5,"v":0.65},{"y":400,"x":0.55,"v":0.93},{"y":400,"x":0.6,"v":0.87},{"y":400,"x":0.65,"v":0.92},{"y":400,"x":0.7,"v":0.22},{"y":400,"x":0.75,"v":0.22},{"y":400,"x":0.8,"v":1},{"y":400,"x":0.85,"v":0.55},{"y":400,"x":0.9,"v":0.08},{"y":400,"x":0.95,"v":0.1},{"y":400,"x":1,"v":0.33},{"y":400,"x":1.05,"v":0.12},{"y":400,"x":1.1,"v":0.25},{"y":400,"x":1.15,"v":0.52},{"y":400,"x":1.2,"v":0.42},{"y":400,"x":1.25,"v":0.87},{"y":400,"x":1.3,"v":0.12},{"y":400,"x":1.35,"v":0.33},{"y":400,"x":1.4,"v":0.17},{"y":400,"x":1.45,"v":0.13},{"y":400,"x":1.5,"v":0.08},{"y":400,"x":1.55,"v":0.1},{"y":400,"x":1.6,"v":0.06},{"y":400,"x":1.65,"v":0.07},{"y":400,"x":1.7,"v":0.32},{"y":400,"x":1.75,"v":0.05},{"y":400,"x":1.8,"v":0.04},{"y":400,"x":1.85,"v":0.12},{"y":400,"x":1.9,"v":0.15},{"y":400,"x":1.95,"v":0.15},{"y":400,"x":2,"v":0},{"y":400,"x":2.05,"v":0},{"y":400,"x":2.1,"v":0},{"y":400,"x":2.15,"v":0.07},{"y":400,"x":2.2,"v":0.07},{"y":400,"x":2.25,"v":0.03},{"y":400,"x":2.3,"v":0},{"y":400,"x":2.35,"v":0},{"y":400,"x":2.4,"v":0.16},{"y":400,"x":2.45,"v":0.04},{"y":400,"x":2.5,"v":0.03},{"y":400,"x":2.55,"v":0.01},{"y":400,"x":2.6,"v":0},{"y":400,"x":2.65,"v":0.22},{"y":400,"x":2.7,"v":0},{"y":400,"x":2.75,"v":0},{"y":400,"x":2.8,"v":0},{"y":400,"x":2.85,"v":0},{"y":400,"x":2.9,"v":0},{"y":400,"x":2.95,"v":0},{"y":400,"x":3,"v":0},{"y":400,"x":3.05,"v":0},{"y":400,"x":3.1,"v":0},{"y":400,"x":3.15,"v":0.08},{"y":400,"x":3.2,"v":0},{"y":400,"x":3.25,"v":0},{"y":400,"x":3.3,"v":0.04},{"y":400,"x":3.35,"v":0},{"y":400,"x":3.4,"v":0},{"y":400,"x":3.45,"v":0.05},{"y":400,"x":3.5,"v":0.03},{"y":400,"x":3.55,"v":0},{"y":400,"x":3.6,"v":0},{"y":400,"x":3.65,"v":0},{"y":400,"x":3.7,"v":0},{"y":400,"x":3.75,"v":0},{"y":400,"x":3.8,"v":0},{"y":400,"x":3.85,"v":0},{"y":400,"x":3.9,"v":0},{"y":400,"x":3.95,"v":0},{"y":400,"x":4,"v":0},
{"y":300,"x":0.05,"v":1},{"y":300,"x":0.1,"v":1},{"y":300,"x":0.15,"v":0.9},{"y":300,"x":0.2,"v":1},{"y":300,"x":0.25,"v":0.17},{"y":300,"x":0.3,"v":0.85},{"y":300,"x":0.35,"v":0.9},{"y":300,"x":0.4,"v":0.42},{"y":300,"x":0.45,"v":0.37},{"y":300,"x":0.5,"v":0.85},{"y":300,"x":0.55,"v":0.75},{"y":300,"x":0.6,"v":0.6},{"y":300,"x":0.65,"v":0.22},{"y":300,"x":0.7,"v":0.2},{"y":300,"x":0.75,"v":0.12},{"y":300,"x":0.8,"v":0.03},{"y":300,"x":0.85,"v":0.85},{"y":300,"x":0.9,"v":0.04},{"y":300,"x":0.95,"v":0.47},{"y":300,"x":1,"v":0.04},{"y":300,"x":1.05,"v":0.18},{"y":300,"x":1.1,"v":0.38},{"y":300,"x":1.15,"v":0.35},{"y":300,"x":1.2,"v":0.05},{"y":300,"x":1.25,"v":0.18},{"y":300,"x":1.3,"v":0.2},{"y":300,"x":1.35,"v":0.04},{"y":300,"x":1.4,"v":0.12},{"y":300,"x":1.45,"v":0.22},{"y":300,"x":1.5,"v":0.06},{"y":300,"x":1.55,"v":0.05},{"y":300,"x":1.6,"v":0.06},{"y":300,"x":1.65,"v":0.06},{"y":300,"x":1.7,"v":0.1},{"y":300,"x":1.75,"v":0.14},{"y":300,"x":1.8,"v":0.14},{"y":300,"x":1.85,"v":0.14},{"y":300,"x":1.9,"v":0.05},{"y":300,"x":1.95,"v":0.23},{"y":300,"x":2,"v":0.22},{"y":300,"x":2.05,"v":0.42},{"y":300,"x":2.1,"v":0.01},{"y":300,"x":2.15,"v":0.03},{"y":300,"x":2.2,"v":0.05},{"y":300,"x":2.25,"v":0},{"y":300,"x":2.3,"v":0},{"y":300,"x":2.35,"v":0.04},{"y":300,"x":2.4,"v":0.01},{"y":300,"x":2.45,"v":0.06},{"y":300,"x":2.5,"v":0},{"y":300,"x":2.55,"v":0},{"y":300,"x":2.6,"v":0.02},{"y":300,"x":2.65,"v":0},{"y":300,"x":2.7,"v":0},{"y":300,"x":2.75,"v":0},{"y":300,"x":2.8,"v":0},{"y":300,"x":2.85,"v":0.03},{"y":300,"x":2.9,"v":0},{"y":300,"x":2.95,"v":0},{"y":300,"x":3,"v":0},{"y":300,"x":3.05,"v":0.08},{"y":300,"x":3.1,"v":0},{"y":300,"x":3.15,"v":0},{"y":300,"x":3.2,"v":0},{"y":300,"x":3.25,"v":0},{"y":300,"x":3.3,"v":0},{"y":300,"x":3.35,"v":0},{"y":300,"x":3.4,"v":0},{"y":300,"x":3.45,"v":0},{"y":300,"x":3.5,"v":0},{"y":300,"x":3.55,"v":0.02},{"y":300,"x":3.6,"v":0},{"y":300,"x":3.65,"v":0},{"y":300,"x":3.7,"v":0},{"y":300,"x":3.75,"v":0},{"y":300,"x":3.8,"v":0},{"y":300,"x":3.85,"v":0},{"y":300,"x":3.9,"v":0},{"y":300,"x":3.95,"v":0},{"y":300,"x":4,"v":0},
{"y":200,"x":0.05,"v":1},{"y":200,"x":0.1,"v":0.87},{"y":200,"x":0.15,"v":0.23},{"y":200,"x":0.2,"v":0.93},{"y":200,"x":0.25,"v":0.35},{"y":200,"x":0.3,"v":0.85},{"y":200,"x":0.35,"v":0.9},{"y":200,"x":0.4,"v":0.17},{"y":200,"x":0.45,"v":0.82},{"y":200,"x":0.5,"v":0.84},{"y":200,"x":0.55,"v":0.1},{"y":200,"x":0.6,"v":0.42},{"y":200,"x":0.65,"v":0.08},{"y":200,"x":0.7,"v":0.87},{"y":200,"x":0.75,"v":0.87},{"y":200,"x":0.8,"v":0.55},{"y":200,"x":0.85,"v":0.38},{"y":200,"x":0.9,"v":0.27},{"y":200,"x":0.95,"v":0.08},{"y":200,"x":1,"v":0.1},{"y":200,"x":1.05,"v":0.34},{"y":200,"x":1.1,"v":0.1},{"y":200,"x":1.15,"v":0.1},{"y":200,"x":1.2,"v":0.09},{"y":200,"x":1.25,"v":0.05},{"y":200,"x":1.3,"v":0.09},{"y":200,"x":1.35,"v":0.04},{"y":200,"x":1.4,"v":0.04},{"y":200,"x":1.45,"v":0.08},{"y":200,"x":1.5,"v":0.05},{"y":200,"x":1.55,"v":0.04},{"y":200,"x":1.6,"v":0.04},{"y":200,"x":1.65,"v":0.04},{"y":200,"x":1.7,"v":0.42},{"y":200,"x":1.75,"v":0.03},{"y":200,"x":1.8,"v":0.07},{"y":200,"x":1.85,"v":0.07},{"y":200,"x":1.9,"v":0.04},{"y":200,"x":1.95,"v":0.05},{"y":200,"x":2,"v":0.06},{"y":200,"x":2.05,"v":0.06},{"y":200,"x":2.1,"v":0},{"y":200,"x":2.15,"v":0.06},{"y":200,"x":2.2,"v":0.22},{"y":200,"x":2.25,"v":0.18},{"y":200,"x":2.3,"v":0.17},{"y":200,"x":2.35,"v":0},{"y":200,"x":2.4,"v":0.03},{"y":200,"x":2.45,"v":0.05},{"y":200,"x":2.5,"v":0.03},{"y":200,"x":2.55,"v":0},{"y":200,"x":2.6,"v":0},{"y":200,"x":2.65,"v":0},{"y":200,"x":2.7,"v":0.02},{"y":200,"x":2.75,"v":0},{"y":200,"x":2.8,"v":0},{"y":200,"x":2.85,"v":0},{"y":200,"x":2.9,"v":0},{"y":200,"x":2.95,"v":0},{"y":200,"x":3,"v":0},{"y":200,"x":3.05,"v":0.05},{"y":200,"x":3.1,"v":0},{"y":200,"x":3.15,"v":0},{"y":200,"x":3.2,"v":0},{"y":200,"x":3.25,"v":0.13},{"y":200,"x":3.3,"v":0},{"y":200,"x":3.35,"v":0},{"y":200,"x":3.4,"v":0},{"y":200,"x":3.45,"v":0},{"y":200,"x":3.5,"v":0},{"y":200,"x":3.55,"v":0},{"y":200,"x":3.6,"v":0},{"y":200,"x":3.65,"v":0},{"y":200,"x":3.7,"v":0},{"y":200,"x":3.75,"v":0},{"y":200,"x":3.8,"v":0},{"y":200,"x":3.85,"v":0},{"y":200,"x":3.9,"v":0},{"y":200,"x":3.95,"v":0},{"y":200,"x":4,"v":0},
{"y":100,"x":0.05,"v":1},{"y":100,"x":0.1,"v":0.6},{"y":100,"x":0.15,"v":1},{"y":100,"x":0.2,"v":0.8},{"y":100,"x":0.25,"v":0.82},{"y":100,"x":0.3,"v":0.93},{"y":100,"x":0.35,"v":0.88},{"y":100,"x":0.4,"v":0.3},{"y":100,"x":0.45,"v":0.42},{"y":100,"x":0.5,"v":0.28},{"y":100,"x":0.55,"v":0.5},{"y":100,"x":0.6,"v":0.13},{"y":100,"x":0.65,"v":1},{"y":100,"x":0.7,"v":1},{"y":100,"x":0.75,"v":0.38},{"y":100,"x":0.8,"v":0.2},{"y":100,"x":0.85,"v":0.2},{"y":100,"x":0.9,"v":0.33},{"y":100,"x":0.95,"v":0.33},{"y":100,"x":1,"v":0.13},{"y":100,"x":1.05,"v":0.05},{"y":100,"x":1.1,"v":0.52},{"y":100,"x":1.15,"v":0.1},{"y":100,"x":1.2,"v":0.3},{"y":100,"x":1.25,"v":0.1},{"y":100,"x":1.3,"v":0.1},{"y":100,"x":1.35,"v":0.1},{"y":100,"x":1.4,"v":0.11},{"y":100,"x":1.45,"v":0.14},{"y":100,"x":1.5,"v":0.08},{"y":100,"x":1.55,"v":0.07},{"y":100,"x":1.6,"v":0.05},{"y":100,"x":1.65,"v":0.05},{"y":100,"x":1.7,"v":0.02},{"y":100,"x":1.75,"v":0.02},{"y":100,"x":1.8,"v":0.03},{"y":100,"x":1.85,"v":0.03},{"y":100,"x":1.9,"v":0.01},{"y":100,"x":1.95,"v":0.01},{"y":100,"x":2,"v":0.06},{"y":100,"x":2.05,"v":0},{"y":100,"x":2.1,"v":0},{"y":100,"x":2.15,"v":0},{"y":100,"x":2.2,"v":0},{"y":100,"x":2.25,"v":0},{"y":100,"x":2.3,"v":0},{"y":100,"x":2.35,"v":0},{"y":100,"x":2.4,"v":0},{"y":100,"x":2.45,"v":0},{"y":100,"x":2.5,"v":0},{"y":100,"x":2.55,"v":0},{"y":100,"x":2.6,"v":0},{"y":100,"x":2.65,"v":0},{"y":100,"x":2.7,"v":0},{"y":100,"x":2.75,"v":0},{"y":100,"x":2.8,"v":0},{"y":100,"x":2.85,"v":0},{"y":100,"x":2.9,"v":0},{"y":100,"x":2.95,"v":0},{"y":100,"x":3,"v":0},{"y":100,"x":3.05,"v":0},{"y":100,"x":3.1,"v":0},{"y":100,"x":3.15,"v":0},{"y":100,"x":3.2,"v":0},{"y":100,"x":3.25,"v":0},{"y":100,"x":3.3,"v":0},{"y":100,"x":3.35,"v":0},{"y":100,"x":3.4,"v":0},{"y":100,"x":3.45,"v":0},{"y":100,"x":3.5,"v":0},{"y":100,"x":3.55,"v":0},{"y":100,"x":3.6,"v":0},{"y":100,"x":3.65,"v":0},{"y":100,"x":3.7,"v":0},{"y":100,"x":3.75,"v":0},{"y":100,"x":3.8,"v":0},{"y":100,"x":3.85,"v":0},{"y":100,"x":3.9,"v":0},{"y":100,"x":3.95,"v":0.03},{"y":100,"x":4,"v":0}
]},
"data":{"name":"cells"},
"layer":[
{"mark":{"type":"rect","width":7.9,"height":21},"encoding":{
"x":{"field":"x","type":"ordinal","scale":{"paddingInner":0,"paddingOuter":0},"axis":{"orient":"bottom","values":[1,2,3,4],"labelAngle":0,"tickSize":-6,"tickColor":"#262626","tickWidth":1,"domainColor":"#4a4a4a","domainWidth":1.2,"labelFont":"Liberation Sans","labelFontSize":28,"labelColor":"#262626","labelPadding":24,"title":"Number of Events from Q(I)","titleFont":"Liberation Serif","titleFontSize":36,"titleFontWeight":"normal","titleColor":"#262626","titleBaseline":"alphabetic","titleX":300.5,"titleY":79}},
"y":{"field":"y","type":"ordinal","sort":"descending","scale":{"paddingInner":0,"paddingOuter":0},"axis":{"orient":"left","values":[500,1000,1500],"tickSize":-6,"tickColor":"#262626","tickWidth":1,"domainColor":"#4a4a4a","domainWidth":1.2,"labelFont":"Liberation Sans","labelFontSize":29,"labelColor":"#262626","labelPadding":20,"title":"Number of Bootstraps","titleFont":"Liberation Sans","titleFontSize":34.5,"titleFontWeight":"normal","titleColor":"#262626","titleX":-88,"titleY":166.5}},
"color":{"field":"v","type":"quantitative","scale":{"domain":[0,0.142857,0.285714,0.428571,0.571429,0.714286,0.857143,1],"range":["#3e26a8","#4852f4","#2d87f7","#12b1d6","#37c897","#abc739","#fec338","#f9fb15"]},"legend":{"type":"gradient","orient":"none","legendX":639,"legendY":0,"title":null,"direction":"vertical","gradientLength":329,"gradientThickness":51,"gradientStrokeColor":"#4a4a4a","gradientStrokeWidth":1,"values":[0,0.2,0.4,0.6,0.8,1],"format":"~g","labelFont":"Liberation Sans","labelFontSize":27,"labelColor":"#262626","labelOffset":10,"encode":{"labels":{"update":{"baseline":{"value":"middle"}}}}}}}},
{"transform":[{"filter":"datum.y==100 && datum.x==4"}],"mark":{"type":"rect","opacity":0},"encoding":{
"x":{"field":"x","type":"ordinal","axis":{"orient":"top","values":[1,2,3,4],"labels":false,"tickSize":-6,"tickColor":"#262626","tickWidth":1,"domainColor":"#4a4a4a","domainWidth":1.2,"title":"×10","titleFont":"Liberation Sans","titleFontSize":32,"titleFontWeight":"normal","titleColor":"#262626","titleAlign":"left","titleBaseline":"alphabetic","titleX":534,"titleY":420}},
"y":{"field":"y","type":"ordinal","sort":"descending","axis":{"orient":"right","values":[500,1000,1500],"labels":false,"tickSize":-6,"tickColor":"#262626","tickWidth":1,"domainColor":"#4a4a4a","domainWidth":1.2,"title":"5","titleFont":"Liberation Sans","titleFontSize":25,"titleFontWeight":"normal","titleColor":"#262626","titleAngle":0,"titleAlign":"left","titleBaseline":"alphabetic","titleX":-18,"titleY":406}}}}
],
"resolve":{"axis":{"x":"independent","y":"independent"}}}
